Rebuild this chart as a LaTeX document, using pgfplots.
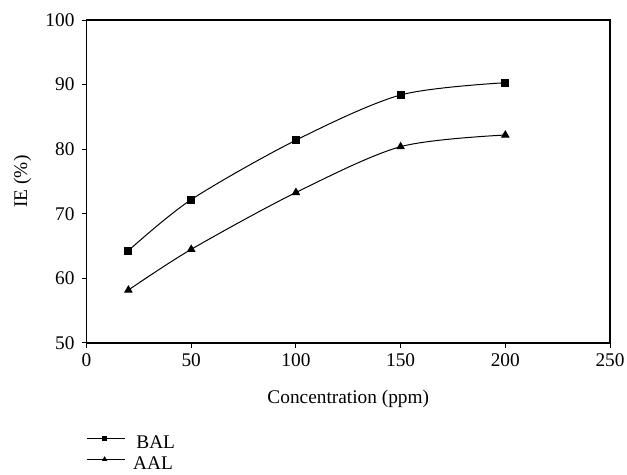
\documentclass[border=0pt]{standalone}
\usepackage{fontspec}
\setmainfont{Liberation Serif}
\usepackage{pgfplots}
\pgfplotsset{compat=1.18}

\begin{document}
\begin{tikzpicture}
\useasboundingbox (0,0) rectangle (470.25pt,355.5pt);
\begin{axis}[
    at={(64.9pt,98.25pt)}, anchor=south west,
    scale only axis,
    width=392.6pt, height=242.2pt,
    xmin=0, xmax=250, ymin=50, ymax=100,
    xtick={0,50,...,250}, ytick={50,60,...,100},
    xtick pos=bottom, ytick pos=left,
    tick align=outside, major tick length=3.5pt,
    axis line style={line width=0.9pt},
    every tick/.style={line width=0.75pt, black},
    font=\fontsize{14.5}{16}\selectfont,
    /pgf/number format/assume math mode=true,
    xticklabel style={yshift=-1pt},
    yticklabel style={xshift=-2pt},
    xlabel={Concentration (ppm)}, ylabel={IE (\%)},
    every axis x label/.style={at={(rel axis cs:0.5,0)}, anchor=center, yshift=-42pt},
    every axis y label/.style={at={(rel axis cs:0,0.5)}, rotate=90, anchor=center, yshift=48pt},
    legend style={at={(0,-0.286)}, anchor=north west, draw=none, fill=none,
        inner sep=0pt, row sep=3.75pt, column sep=6pt,
        nodes={text height=10pt, text depth=2pt, inner sep=0pt},
        font=\fontsize{14.5}{16}\selectfont,
        legend cell align=left},
    legend image code/.code={
        \draw[line width=0.75pt] (0pt,4pt) -- (28pt,4pt);
        \draw[#1, line width=0.75pt, mark size=1.6pt] plot coordinates {(13pt,4pt)};
    },
]
\addplot[black, line width=0.75pt, smooth, mark=square*, mark size=2.6pt]
    coordinates {(20,64.3) (50,72.2) (100,81.4) (150,88.4) (200,90.3)};
\addlegendentry{\,BAL}
\addplot[black, line width=0.75pt, smooth, mark=triangle*, mark size=3pt]
    coordinates {(20,58.2) (50,64.5) (100,73.3) (150,80.4) (200,82.2)};
\addlegendentry{AAL}
\end{axis}
\end{tikzpicture}
\end{document}
